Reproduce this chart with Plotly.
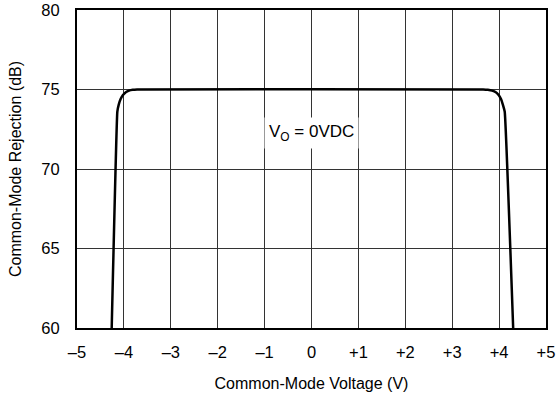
import plotly.graph_objects as go

# Common-mode rejection vs. common-mode input voltage (VO = 0 VDC)
cm_voltage = [-4.26, -4.14, -4.11, -4.07, -4.02, -3.96, -3.89, -3.81, -3.72,
              3.66, 3.76, 3.85, 3.93, 3.99, 4.04, 4.08, 4.12, 4.30]
cmr_db = [60.0, 73.6, 74.05, 74.4, 74.65, 74.83, 74.93, 74.98, 75.0,
          75.0, 74.98, 74.93, 74.83, 74.65, 74.4, 74.05, 73.6, 60.0]

x_ticks = [-5, -4, -3, -2, -1, 0, 1, 2, 3, 4, 5]
x_tick_text = ["\u20135", "\u20134", "\u20133", "\u20132", "\u20131", "0",
               "+1", "+2", "+3", "+4", "+5"]
y_ticks = [60, 65, 70, 75, 80]

font_family = "Liberation Sans, Arial, sans-serif"

fig = go.Figure()
fig.add_trace(go.Scatter(
    x=cm_voltage, y=cmr_db, mode="lines",
    line=dict(color="black", width=2.5, shape="spline", smoothing=0.3),
    hoverinfo="skip", showlegend=False,
))

fig.add_annotation(
    x=0, y=72.25, xref="x", yref="y",
    text="V<sub>O</sub> = 0VDC", showarrow=False,
    font=dict(family=font_family, size=17, color="black"),
    bgcolor="white", borderpad=4,
)

axis_common = dict(
    showgrid=True, gridcolor="#333", gridwidth=1,
    showline=True, linecolor="black", linewidth=2, mirror=True,
    zeroline=False, ticks="", color="black", automargin=False,
    tickfont=dict(family=font_family, size=16.5, color="black"),
)

fig.update_layout(
    width=557, height=398,
    margin=dict(l=77, r=11, t=10, b=70),
    paper_bgcolor="white", plot_bgcolor="white",
    font=dict(family=font_family, size=16, color="black"),
    xaxis=dict(
        range=[-5, 5], tickvals=x_ticks, ticktext=x_tick_text,
        ticklabelstandoff=8,
        title=dict(text="Common-Mode Voltage (V)", standoff=18,
                   font=dict(family=font_family, size=16, color="black")),
        **axis_common,
    ),
    yaxis=dict(
        range=[60, 80], tickvals=y_ticks,
        ticklabelstandoff=12,
        title=dict(text="Common-Mode Rejection (dB)", standoff=16,
                   font=dict(family=font_family, size=16, color="black")),
        **axis_common,
    ),
)

fig.write_html("out.html")
